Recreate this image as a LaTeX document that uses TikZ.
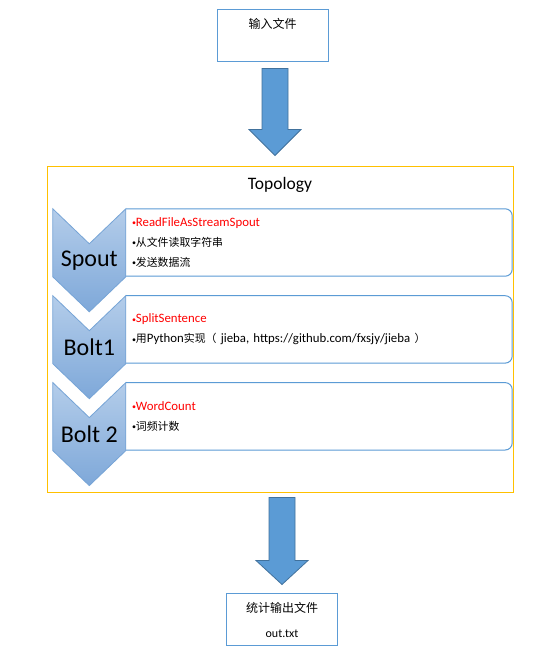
\documentclass[tikz,border=0pt]{standalone}
\usepackage{fontspec}
\setmainfont{Carlito}
\newfontfamily\zh{Noto Sans CJK SC}
\newfontfamily\zhsmall[Scale=0.85]{Noto Sans CJK SC}
\usetikzlibrary{positioning, calc}
\definecolor{boxblue}{RGB}{91, 155, 213}
\definecolor{arrowblue}{RGB}{91, 155, 213}
\definecolor{arrowedge}{RGB}{65, 113, 156}
\definecolor{topoyellow}{RGB}{255, 192, 0}
\definecolor{chevtop}{RGB}{180, 205, 234}
\definecolor{chevbot}{RGB}{126, 168, 217}
\definecolor{chevedge}{RGB}{118, 164, 214}
\newcommand{\bul}{\raisebox{0.6pt}{\fontsize{8}{8}\selectfont •}}

\begin{document}
\begin{tikzpicture}[x=1pt, y=1pt,
  filebox/.style={rectangle, draw=boxblue, line width=1pt, fill=white,
                  minimum width=111pt, minimum height=52pt, inner sep=0pt,
                  align=center, font=\fontsize{12}{25}\selectfont},
  topobox/.style={rectangle, draw=topoyellow, line width=1pt, fill=white,
                  minimum width=466pt, minimum height=325pt},
  infobox/.style={rectangle, minimum width=386pt, minimum height=67pt,
                  text width=374pt, inner xsep=6pt, align=left,
                  font=\fontsize{12.8}{20}\selectfont},
  infoline/.style={draw=boxblue, line width=1pt, rounded corners=7pt},
  chevshape/.style={top color=chevtop, bottom color=chevbot, draw=chevedge, line width=0.8pt},
  chevlabel/.style={font=\fontsize{24}{24}\selectfont, inner sep=0pt},
  bigarrow/.style={fill=arrowblue, draw=arrowedge, line width=0.8pt}
]
\fill[white] (0,0) rectangle (551,-668);
\useasboundingbox (0,0) rectangle (551,-668);

% input and topology frame
\node[filebox] (infile) at (272.5,-36) {{\zh 输入文件}\\\mbox{}};
\node[topobox] (topo) at (280,-329.5) {};
\node[font=\fontsize{17.5}{17.5}\selectfont] (topotitle) at ($(topo.north)+(0,-18)$) {Topology};

% the three stages
\node[infobox] (spoutinfo) at (319,-242.5)
  {\textcolor{red}{\bul ReadFileAsStreamSpout}\\
   \bul{\zhsmall 从文件读取字符串}\\
   \bul{\zhsmall 发送数据流}};
\node[infobox, below=19.5pt of spoutinfo] (boltoneinfo)
  {\textcolor{red}{\bul SplitSentence}\\
   \bul{\zhsmall 用}Python{\zhsmall 实现（} jieba, https://github.com/fxsjy/jieba {\zhsmall ）}};
\node[infobox, below=19.5pt of boltoneinfo] (bolttwoinfo)
  {\textcolor{red}{\bul WordCount}\\
   \bul{\zhsmall 词频计数}};

\foreach \info/\stage/\txt in {spoutinfo/spout/Spout, boltoneinfo/boltone/Bolt1, bolttwoinfo/bolttwo/Bolt 2} {
  \draw[infoline] (\info.north west) -- (\info.north east) -- (\info.south east) -- (\info.south west);
  \draw[chevshape] ($(\info.north west)+(-73,0)$) -- ++(36.5,-35) -- ++(36.5,35) -- ++(0,-68)
    -- ++(-36.5,-35) -- ++(-36.5,35) -- cycle;
  \node[chevlabel] (\stage) at ($(\info.north west)+(-36.5,-52)$) {\txt};
}

% output
\node[filebox] (outfile) at (282,-619.5) {{\zh 统计输出文件}\\out.txt};

% block arrows
\draw[bigarrow] ($(infile.south)+(-10.5,-6)$) -- ++(26,0) -- ++(0,-61) -- ++(13,0)
  -- ++(-26,-26) -- ++(-26,26) -- ++(13,0) -- cycle;
\draw[bigarrow] ($(topo.south)+(-11,-5)$) -- ++(26,0) -- ++(0,-63) -- ++(13,0)
  -- ++(-26,-24) -- ++(-26,24) -- ++(13,0) -- cycle;
\end{tikzpicture}
\end{document}
